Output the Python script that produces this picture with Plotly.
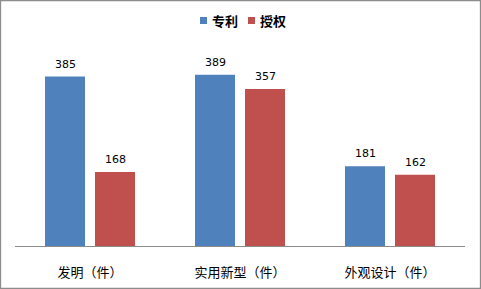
import plotly.graph_objects as go

categories = ["发明（件）", "实用新型（件）", "外观设计（件）"]
series_names = ["专利", "授权"]
patent_values = [385, 389, 181]
grant_values = [168, 357, 162]
colors = ["#4F81BD", "#C0504D"]

W, H = 481, 289
ml, mr, mt, mb = 15, 16, 48, 43
pw = W - ml - mr
ph = H - mt - mb


def px_x(x):
    return (x - ml) / pw


def px_y(y):
    return (H - mb - y) / ph


fig = go.Figure()
for name, vals, col in zip(series_names, [patent_values, grant_values], colors):
    fig.add_trace(go.Bar(
        x=categories, y=vals, name=name, marker=dict(color=col, line=dict(width=0)),
        cliponaxis=False, showlegend=False,
    ))

# value labels above bars
for vals, shift in zip([patent_values, grant_values], [-25, 25]):
    for c, v in zip(categories, vals):
        fig.add_annotation(x=c, y=v, xref="x", yref="y", text=str(v), showarrow=False,
                           xshift=shift, yshift=4, yanchor="bottom", xanchor="center",
                           font=dict(family="DejaVu Sans, Verdana", size=11, color="#000000"))

# border around the chart area
fig.add_shape(type="rect", xref="paper", yref="paper",
              x0=px_x(0.5), x1=px_x(W - 0.5), y0=px_y(H - 0.5), y1=px_y(0.5),
              line=dict(color="#8C8C8C", width=1.3), fillcolor="rgba(0,0,0,0)", layer="above")

# legend (manual, compact like the reference)
legend_x = [200, 248]
for name, col, lx in zip(series_names, colors, legend_x):
    fig.add_shape(type="rect", xref="paper", yref="paper",
                  x0=px_x(lx), x1=px_x(lx + 7), y0=px_y(24), y1=px_y(17),
                  line=dict(width=0), fillcolor=col)
    fig.add_annotation(xref="paper", yref="paper", x=px_x(lx + 10), y=px_y(20.5),
                       xanchor="left", yanchor="middle", showarrow=False, text="<b>%s</b>" % name,
                       font=dict(family="Noto Sans CJK SC", size=13, color="#000000"))

fig.update_layout(
    width=W, height=H, margin=dict(l=ml, r=mr, t=mt, b=mb, autoexpand=False),
    paper_bgcolor="white", plot_bgcolor="white",
    barmode="group", bargap=1/3, bargroupgap=0.2,
    font=dict(family="Noto Sans CJK SC", color="#000000"),
    showlegend=False,
    xaxis=dict(showline=True, linecolor="#8C8C8C", linewidth=1, ticks="outside", ticklen=14,
               tickcolor="rgba(0,0,0,0)", tickfont=dict(family="Noto Sans CJK SC", size=13, color="#000000"),
               showgrid=False, automargin=False),
    yaxis=dict(range=[0, 450], visible=False, showgrid=False, automargin=False),
)

fig.write_html("out.html")
